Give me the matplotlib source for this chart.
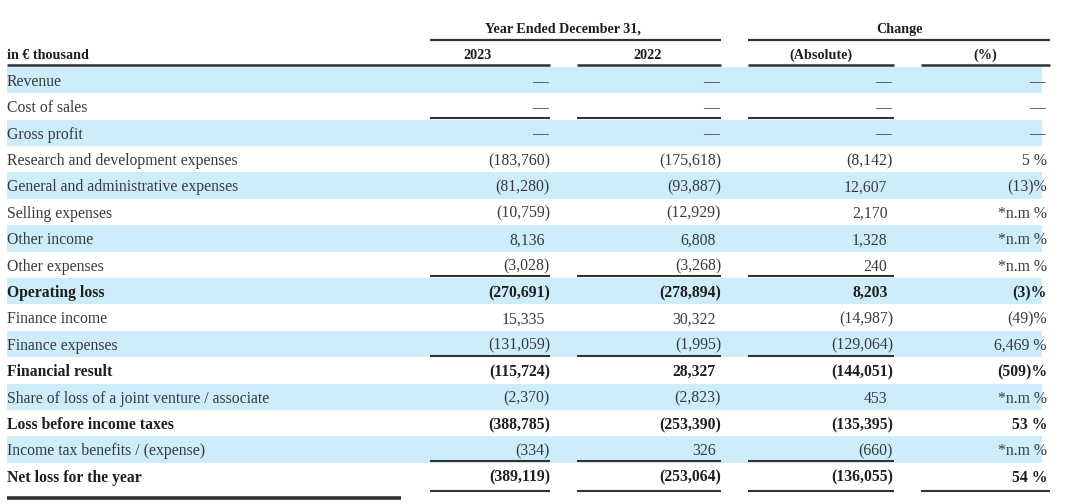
import matplotlib
matplotlib.use("Agg")
import matplotlib.pyplot as plt

# ---------------- data ----------------
row_labels = [
    "Revenue", "Cost of sales", "Gross profit",
    "Research and development expenses",
    "General and administrative expenses",
    "Selling expenses", "Other income", "Other expenses",
    "Operating loss", "Finance income", "Finance expenses",
    "Financial result", "Share of loss of a joint venture / associate",
    "Loss before income taxes", "Income tax benefits / (expense)",
    "Net loss for the year",
]
bold_rows = ["Operating loss", "Financial result",
             "Loss before income taxes", "Net loss for the year"]

values_2023 = [None, None, None, -183760, -81280, -10759, 8136, -3028,
               -270691, 15335, -131059, -115724, -2370, -388785, -334, -389119]
values_2022 = [None, None, None, -175618, -93887, -12929, 6808, -3268,
               -278894, 30322, -1995, 28327, -2823, -253390, 326, -253064]
change_abs = [None, None, None, -8142, 12607, 2170, 1328, 240,
              8203, -14987, -129064, -144051, 453, -135395, -660, -136055]
change_pct = ["—", "—", "—", "5 %", "(13)%", "*n.m %", "*n.m %", "*n.m %",
              "(3)%", "(49)%", "6,469 %", "(509)%", "*n.m %", "53 %",
              "*n.m %", "54 %"]

header_group = ["Year Ended December 31,", "Change"]
header_cols = ["2023", "2022", "(Absolute)", "(%)"]
unit_label = "in € thousand"

# rows followed by an underline in the number columns
underline_after = ["Cost of sales", "Other expenses", "Finance expenses",
                   "Income tax benefits / (expense)"]

# ---------------- layout ----------------
W, H = 1080, 504
fig = plt.figure(figsize=(W / 100, H / 100), dpi=100)
ax = fig.add_axes([0, 0, 1, 1])
ax.set_xlim(0, W)
ax.set_ylim(H, 0)
ax.axis("off")

FONT = "Liberation Serif"
FS = 11.3
HFS = 10.2
shade = "#cdedfa"
txt = "#363a40"
btxt = "#1e1e1e"
linec = "#333333"

col_spans = [(430, 550), (577, 721), (748, 894), (921, 1050)]
col_right = [550, 721, 893, 1047]
paren_w = 5.5
tdy = 1.8  # text baseline nudge

row0 = 80.0
dy = 26.4
centers = [row0 + i * dy for i in range(len(row_labels))]

# shaded bands
for i, c in enumerate(centers):
    if i % 2 == 0:
        ax.add_patch(plt.Rectangle((7, c - dy / 2), 1042 - 7, dy,
                                   facecolor=shade, edgecolor="none", zorder=0))

# header
ax.text(563, 29.5, header_group[0], ha="center", va="center", fontsize=HFS,
        fontweight="bold", family=FONT, color=btxt)
ax.text(899, 29.5, header_group[1], ha="center", va="center", fontsize=HFS,
        fontweight="bold", family=FONT, color=btxt)
ax.plot([430, 721], [39.5, 39.5], color=linec, lw=1.6, solid_capstyle="butt")
ax.plot([748, 1050], [39.5, 39.5], color=linec, lw=1.6, solid_capstyle="butt")

ax.text(7, 55.5, unit_label, ha="left", va="center", fontsize=HFS,
        fontweight="bold", family=FONT, color=btxt)
hdr_x = [477, 648, 821, 985]
for x, s in zip(hdr_x, header_cols):
    ax.text(x, 55.5, s, ha="center", va="center", fontsize=HFS,
            fontweight="bold", family=FONT, color=btxt)
ax.plot([7, 550], [65, 65], color=linec, lw=1.8, solid_capstyle="butt")
for a, b in col_spans[1:]:
    ax.plot([a, b], [65, 65], color=linec, lw=1.8, solid_capstyle="butt")


def fmt(v):
    if v is None:
        return "—", False
    s = f"{abs(v):,}"
    if v < 0:
        return f"({s})", True
    return s, False


for i, (lab, c) in enumerate(zip(row_labels, centers)):
    isb = lab in bold_rows
    w = "bold" if isb else "normal"
    col = btxt if isb else txt
    ty = c + tdy
    ax.text(7, ty, lab, ha="left", va="center", fontsize=FS, fontweight=w,
            family=FONT, color=col)
    for j, series in enumerate([values_2023, values_2022, change_abs]):
        s, neg = fmt(series[i])
        x = col_right[j] if neg else col_right[j] - (2.5 if series[i] is None else paren_w)
        ax.text(x, ty, s, ha="right", va="center", fontsize=FS, fontweight=w,
                family=FONT, color=col)
    ps = change_pct[i]
    ax.text(col_right[3] - (2.5 if ps == "—" else 0), ty, ps, ha="right",
            va="center", fontsize=FS, fontweight=w, family=FONT, color=col)
    if lab in underline_after:
        yl = c + dy / 2 - 1.5
        for a, b in col_spans[:3]:
            ax.plot([a, b], [yl, yl], color=linec, lw=1.5, solid_capstyle="butt")

# final rules
last = centers[-1]
for a, b in col_spans:
    ax.plot([a, b], [last + 15, last + 15], color=linec, lw=1.5,
            solid_capstyle="butt")
ax.plot([7, 401], [last + 22, last + 22], color=linec, lw=2.6,
        solid_capstyle="butt")

fig.savefig("out.png", dpi=100)
